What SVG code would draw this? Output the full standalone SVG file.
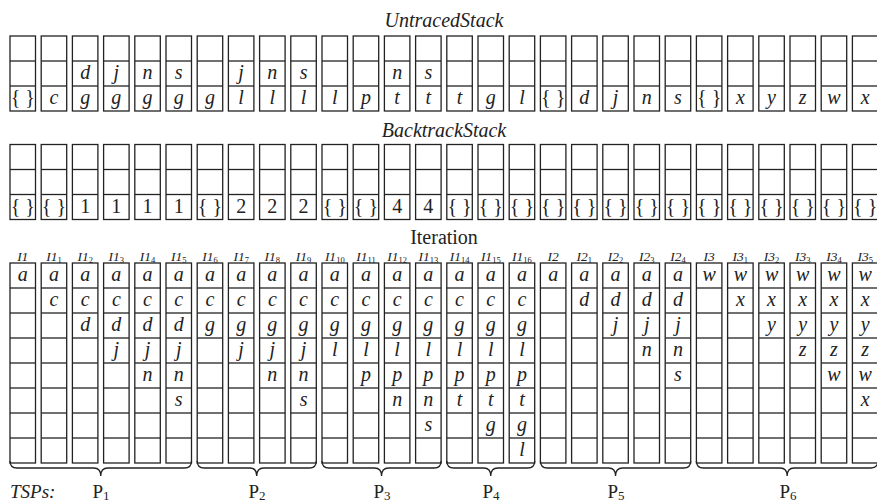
<svg xmlns="http://www.w3.org/2000/svg" width="877" height="503" viewBox="0 0 877 503" font-family="'Liberation Serif', 'DejaVu Serif', serif">
<style>
.c{fill:#fff;stroke:#222;stroke-width:1.3}
.l{stroke:#222;stroke-width:1.3}
text{font-family:'Liberation Serif','DejaVu Serif',serif;fill:#222}
.v{font-family:'Liberation Serif',serif;font-size:20px;font-style:italic;text-anchor:middle}
.n{font-family:'Liberation Serif',serif;font-size:20px;text-anchor:middle}
.t{font-family:'Liberation Serif',serif;font-size:20px;font-style:italic;text-anchor:middle}
.h{font-family:'Liberation Serif',serif;font-size:20px;text-anchor:middle}
.lab{font-family:'Liberation Serif',serif;font-size:13.5px;font-style:italic;text-anchor:middle}
.sub{font-size:8.5px;font-style:normal}
.p{font-family:'Liberation Serif',serif;font-size:19px;text-anchor:middle}
.tsp{font-family:'Liberation Serif',serif;font-size:19px;font-style:italic}
.psub{font-size:13px}
.br{fill:none;stroke:#222;stroke-width:1.3}
</style>
<defs>
<g id="s3"><rect class="c" x="0" y="0" width="25.5" height="75"/><line class="l" x1="0" y1="25" x2="25.5" y2="25"/><line class="l" x1="0" y1="50" x2="25.5" y2="50"/></g>
<g id="s8"><rect class="c" x="0" y="0" width="25.5" height="200"/><line class="l" x1="0" y1="25" x2="25.5" y2="25"/><line class="l" x1="0" y1="50" x2="25.5" y2="50"/><line class="l" x1="0" y1="75" x2="25.5" y2="75"/><line class="l" x1="0" y1="100" x2="25.5" y2="100"/><line class="l" x1="0" y1="125" x2="25.5" y2="125"/><line class="l" x1="0" y1="150" x2="25.5" y2="150"/><line class="l" x1="0" y1="175" x2="25.5" y2="175"/></g>
</defs>

<text class="t" x="444" y="27">UntracedStack</text>
<text class="t" x="444" y="137">BacktrackStack</text>
<text class="h" x="444" y="243.5">Iteration</text>

<g id="untraced">
<g id="u0" transform="translate(10,36)"><use href="#s3"/><text class="n" x="12.75" y="68">{ }</text></g>
<g id="u1" transform="translate(41.2,36)"><use href="#s3"/><text class="v" x="12.75" y="68">c</text></g>
<g id="u2" transform="translate(72.4,36)"><use href="#s3"/><text class="v" x="12.75" y="43">d</text><text class="v" x="12.75" y="68">g</text></g>
<g id="u3" transform="translate(103.6,36)"><use href="#s3"/><text class="v" x="12.75" y="43">j</text><text class="v" x="12.75" y="68">g</text></g>
<g id="u4" transform="translate(134.8,36)"><use href="#s3"/><text class="v" x="12.75" y="43">n</text><text class="v" x="12.75" y="68">g</text></g>
<g id="u5" transform="translate(166,36)"><use href="#s3"/><text class="v" x="12.75" y="43">s</text><text class="v" x="12.75" y="68">g</text></g>
<g id="u6" transform="translate(197.2,36)"><use href="#s3"/><text class="v" x="12.75" y="68">g</text></g>
<g id="u7" transform="translate(228.4,36)"><use href="#s3"/><text class="v" x="12.75" y="43">j</text><text class="v" x="12.75" y="68">l</text></g>
<g id="u8" transform="translate(259.6,36)"><use href="#s3"/><text class="v" x="12.75" y="43">n</text><text class="v" x="12.75" y="68">l</text></g>
<g id="u9" transform="translate(290.8,36)"><use href="#s3"/><text class="v" x="12.75" y="43">s</text><text class="v" x="12.75" y="68">l</text></g>
<g id="u10" transform="translate(322,36)"><use href="#s3"/><text class="v" x="12.75" y="68">l</text></g>
<g id="u11" transform="translate(353.2,36)"><use href="#s3"/><text class="v" x="12.75" y="68">p</text></g>
<g id="u12" transform="translate(384.4,36)"><use href="#s3"/><text class="v" x="12.75" y="43">n</text><text class="v" x="12.75" y="68">t</text></g>
<g id="u13" transform="translate(415.6,36)"><use href="#s3"/><text class="v" x="12.75" y="43">s</text><text class="v" x="12.75" y="68">t</text></g>
<g id="u14" transform="translate(446.8,36)"><use href="#s3"/><text class="v" x="12.75" y="68">t</text></g>
<g id="u15" transform="translate(478,36)"><use href="#s3"/><text class="v" x="12.75" y="68">g</text></g>
<g id="u16" transform="translate(509.2,36)"><use href="#s3"/><text class="v" x="12.75" y="68">l</text></g>
<g id="u17" transform="translate(540.4,36)"><use href="#s3"/><text class="n" x="12.75" y="68">{ }</text></g>
<g id="u18" transform="translate(571.6,36)"><use href="#s3"/><text class="v" x="12.75" y="68">d</text></g>
<g id="u19" transform="translate(602.8,36)"><use href="#s3"/><text class="v" x="12.75" y="68">j</text></g>
<g id="u20" transform="translate(634,36)"><use href="#s3"/><text class="v" x="12.75" y="68">n</text></g>
<g id="u21" transform="translate(665.2,36)"><use href="#s3"/><text class="v" x="12.75" y="68">s</text></g>
<g id="u22" transform="translate(696.4,36)"><use href="#s3"/><text class="n" x="12.75" y="68">{ }</text></g>
<g id="u23" transform="translate(727.6,36)"><use href="#s3"/><text class="v" x="12.75" y="68">x</text></g>
<g id="u24" transform="translate(758.8,36)"><use href="#s3"/><text class="v" x="12.75" y="68">y</text></g>
<g id="u25" transform="translate(790,36)"><use href="#s3"/><text class="v" x="12.75" y="68">z</text></g>
<g id="u26" transform="translate(821.2,36)"><use href="#s3"/><text class="v" x="12.75" y="68">w</text></g>
<g id="u27" transform="translate(852.4,36)"><use href="#s3"/><text class="v" x="12.75" y="68">x</text></g>
</g>

<g id="backtrack">
<g id="b0" transform="translate(10,144.5)"><use href="#s3"/><text class="n" x="12.75" y="68">{ }</text></g>
<g id="b1" transform="translate(41.2,144.5)"><use href="#s3"/><text class="n" x="12.75" y="68">{ }</text></g>
<g id="b2" transform="translate(72.4,144.5)"><use href="#s3"/><text class="n" x="12.75" y="68">1</text></g>
<g id="b3" transform="translate(103.6,144.5)"><use href="#s3"/><text class="n" x="12.75" y="68">1</text></g>
<g id="b4" transform="translate(134.8,144.5)"><use href="#s3"/><text class="n" x="12.75" y="68">1</text></g>
<g id="b5" transform="translate(166,144.5)"><use href="#s3"/><text class="n" x="12.75" y="68">1</text></g>
<g id="b6" transform="translate(197.2,144.5)"><use href="#s3"/><text class="n" x="12.75" y="68">{ }</text></g>
<g id="b7" transform="translate(228.4,144.5)"><use href="#s3"/><text class="n" x="12.75" y="68">2</text></g>
<g id="b8" transform="translate(259.6,144.5)"><use href="#s3"/><text class="n" x="12.75" y="68">2</text></g>
<g id="b9" transform="translate(290.8,144.5)"><use href="#s3"/><text class="n" x="12.75" y="68">2</text></g>
<g id="b10" transform="translate(322,144.5)"><use href="#s3"/><text class="n" x="12.75" y="68">{ }</text></g>
<g id="b11" transform="translate(353.2,144.5)"><use href="#s3"/><text class="n" x="12.75" y="68">{ }</text></g>
<g id="b12" transform="translate(384.4,144.5)"><use href="#s3"/><text class="n" x="12.75" y="68">4</text></g>
<g id="b13" transform="translate(415.6,144.5)"><use href="#s3"/><text class="n" x="12.75" y="68">4</text></g>
<g id="b14" transform="translate(446.8,144.5)"><use href="#s3"/><text class="n" x="12.75" y="68">{ }</text></g>
<g id="b15" transform="translate(478,144.5)"><use href="#s3"/><text class="n" x="12.75" y="68">{ }</text></g>
<g id="b16" transform="translate(509.2,144.5)"><use href="#s3"/><text class="n" x="12.75" y="68">{ }</text></g>
<g id="b17" transform="translate(540.4,144.5)"><use href="#s3"/><text class="n" x="12.75" y="68">{ }</text></g>
<g id="b18" transform="translate(571.6,144.5)"><use href="#s3"/><text class="n" x="12.75" y="68">{ }</text></g>
<g id="b19" transform="translate(602.8,144.5)"><use href="#s3"/><text class="n" x="12.75" y="68">{ }</text></g>
<g id="b20" transform="translate(634,144.5)"><use href="#s3"/><text class="n" x="12.75" y="68">{ }</text></g>
<g id="b21" transform="translate(665.2,144.5)"><use href="#s3"/><text class="n" x="12.75" y="68">{ }</text></g>
<g id="b22" transform="translate(696.4,144.5)"><use href="#s3"/><text class="n" x="12.75" y="68">{ }</text></g>
<g id="b23" transform="translate(727.6,144.5)"><use href="#s3"/><text class="n" x="12.75" y="68">{ }</text></g>
<g id="b24" transform="translate(758.8,144.5)"><use href="#s3"/><text class="n" x="12.75" y="68">{ }</text></g>
<g id="b25" transform="translate(790,144.5)"><use href="#s3"/><text class="n" x="12.75" y="68">{ }</text></g>
<g id="b26" transform="translate(821.2,144.5)"><use href="#s3"/><text class="n" x="12.75" y="68">{ }</text></g>
<g id="b27" transform="translate(852.4,144.5)"><use href="#s3"/><text class="n" x="12.75" y="68">{ }</text></g>
</g>

<g id="iterations">
<g id="it0" transform="translate(10,263)"><text class="lab" x="12.75" y="-2.5">I1</text><use href="#s8"/><text class="v" x="12.75" y="18">a</text></g>
<g id="it1" transform="translate(41.2,263)"><text class="lab" x="12.75" y="-2.5">I1<tspan class="sub" dy="2">1</tspan></text><use href="#s8"/><text class="v" x="12.75" y="18">a</text><text class="v" x="12.75" y="43">c</text></g>
<g id="it2" transform="translate(72.4,263)"><text class="lab" x="12.75" y="-2.5">I1<tspan class="sub" dy="2">2</tspan></text><use href="#s8"/><text class="v" x="12.75" y="18">a</text><text class="v" x="12.75" y="43">c</text><text class="v" x="12.75" y="68">d</text></g>
<g id="it3" transform="translate(103.6,263)"><text class="lab" x="12.75" y="-2.5">I1<tspan class="sub" dy="2">3</tspan></text><use href="#s8"/><text class="v" x="12.75" y="18">a</text><text class="v" x="12.75" y="43">c</text><text class="v" x="12.75" y="68">d</text><text class="v" x="12.75" y="93">j</text></g>
<g id="it4" transform="translate(134.8,263)"><text class="lab" x="12.75" y="-2.5">I1<tspan class="sub" dy="2">4</tspan></text><use href="#s8"/><text class="v" x="12.75" y="18">a</text><text class="v" x="12.75" y="43">c</text><text class="v" x="12.75" y="68">d</text><text class="v" x="12.75" y="93">j</text><text class="v" x="12.75" y="118">n</text></g>
<g id="it5" transform="translate(166,263)"><text class="lab" x="12.75" y="-2.5">I1<tspan class="sub" dy="2">5</tspan></text><use href="#s8"/><text class="v" x="12.75" y="18">a</text><text class="v" x="12.75" y="43">c</text><text class="v" x="12.75" y="68">d</text><text class="v" x="12.75" y="93">j</text><text class="v" x="12.75" y="118">n</text><text class="v" x="12.75" y="143">s</text></g>
<g id="it6" transform="translate(197.2,263)"><text class="lab" x="12.75" y="-2.5">I1<tspan class="sub" dy="2">6</tspan></text><use href="#s8"/><text class="v" x="12.75" y="18">a</text><text class="v" x="12.75" y="43">c</text><text class="v" x="12.75" y="68">g</text></g>
<g id="it7" transform="translate(228.4,263)"><text class="lab" x="12.75" y="-2.5">I1<tspan class="sub" dy="2">7</tspan></text><use href="#s8"/><text class="v" x="12.75" y="18">a</text><text class="v" x="12.75" y="43">c</text><text class="v" x="12.75" y="68">g</text><text class="v" x="12.75" y="93">j</text></g>
<g id="it8" transform="translate(259.6,263)"><text class="lab" x="12.75" y="-2.5">I1<tspan class="sub" dy="2">8</tspan></text><use href="#s8"/><text class="v" x="12.75" y="18">a</text><text class="v" x="12.75" y="43">c</text><text class="v" x="12.75" y="68">g</text><text class="v" x="12.75" y="93">j</text><text class="v" x="12.75" y="118">n</text></g>
<g id="it9" transform="translate(290.8,263)"><text class="lab" x="12.75" y="-2.5">I1<tspan class="sub" dy="2">9</tspan></text><use href="#s8"/><text class="v" x="12.75" y="18">a</text><text class="v" x="12.75" y="43">c</text><text class="v" x="12.75" y="68">g</text><text class="v" x="12.75" y="93">j</text><text class="v" x="12.75" y="118">n</text><text class="v" x="12.75" y="143">s</text></g>
<g id="it10" transform="translate(322,263)"><text class="lab" x="12.75" y="-2.5">I1<tspan class="sub" dy="2">10</tspan></text><use href="#s8"/><text class="v" x="12.75" y="18">a</text><text class="v" x="12.75" y="43">c</text><text class="v" x="12.75" y="68">g</text><text class="v" x="12.75" y="93">l</text></g>
<g id="it11" transform="translate(353.2,263)"><text class="lab" x="12.75" y="-2.5">I1<tspan class="sub" dy="2">11</tspan></text><use href="#s8"/><text class="v" x="12.75" y="18">a</text><text class="v" x="12.75" y="43">c</text><text class="v" x="12.75" y="68">g</text><text class="v" x="12.75" y="93">l</text><text class="v" x="12.75" y="118">p</text></g>
<g id="it12" transform="translate(384.4,263)"><text class="lab" x="12.75" y="-2.5">I1<tspan class="sub" dy="2">12</tspan></text><use href="#s8"/><text class="v" x="12.75" y="18">a</text><text class="v" x="12.75" y="43">c</text><text class="v" x="12.75" y="68">g</text><text class="v" x="12.75" y="93">l</text><text class="v" x="12.75" y="118">p</text><text class="v" x="12.75" y="143">n</text></g>
<g id="it13" transform="translate(415.6,263)"><text class="lab" x="12.75" y="-2.5">I1<tspan class="sub" dy="2">13</tspan></text><use href="#s8"/><text class="v" x="12.75" y="18">a</text><text class="v" x="12.75" y="43">c</text><text class="v" x="12.75" y="68">g</text><text class="v" x="12.75" y="93">l</text><text class="v" x="12.75" y="118">p</text><text class="v" x="12.75" y="143">n</text><text class="v" x="12.75" y="168">s</text></g>
<g id="it14" transform="translate(446.8,263)"><text class="lab" x="12.75" y="-2.5">I1<tspan class="sub" dy="2">14</tspan></text><use href="#s8"/><text class="v" x="12.75" y="18">a</text><text class="v" x="12.75" y="43">c</text><text class="v" x="12.75" y="68">g</text><text class="v" x="12.75" y="93">l</text><text class="v" x="12.75" y="118">p</text><text class="v" x="12.75" y="143">t</text></g>
<g id="it15" transform="translate(478,263)"><text class="lab" x="12.75" y="-2.5">I1<tspan class="sub" dy="2">15</tspan></text><use href="#s8"/><text class="v" x="12.75" y="18">a</text><text class="v" x="12.75" y="43">c</text><text class="v" x="12.75" y="68">g</text><text class="v" x="12.75" y="93">l</text><text class="v" x="12.75" y="118">p</text><text class="v" x="12.75" y="143">t</text><text class="v" x="12.75" y="168">g</text></g>
<g id="it16" transform="translate(509.2,263)"><text class="lab" x="12.75" y="-2.5">I1<tspan class="sub" dy="2">16</tspan></text><use href="#s8"/><text class="v" x="12.75" y="18">a</text><text class="v" x="12.75" y="43">c</text><text class="v" x="12.75" y="68">g</text><text class="v" x="12.75" y="93">l</text><text class="v" x="12.75" y="118">p</text><text class="v" x="12.75" y="143">t</text><text class="v" x="12.75" y="168">g</text><text class="v" x="12.75" y="193">l</text></g>
<g id="it17" transform="translate(540.4,263)"><text class="lab" x="12.75" y="-2.5">I2</text><use href="#s8"/><text class="v" x="12.75" y="18">a</text></g>
<g id="it18" transform="translate(571.6,263)"><text class="lab" x="12.75" y="-2.5">I2<tspan class="sub" dy="2">1</tspan></text><use href="#s8"/><text class="v" x="12.75" y="18">a</text><text class="v" x="12.75" y="43">d</text></g>
<g id="it19" transform="translate(602.8,263)"><text class="lab" x="12.75" y="-2.5">I2<tspan class="sub" dy="2">2</tspan></text><use href="#s8"/><text class="v" x="12.75" y="18">a</text><text class="v" x="12.75" y="43">d</text><text class="v" x="12.75" y="68">j</text></g>
<g id="it20" transform="translate(634,263)"><text class="lab" x="12.75" y="-2.5">I2<tspan class="sub" dy="2">3</tspan></text><use href="#s8"/><text class="v" x="12.75" y="18">a</text><text class="v" x="12.75" y="43">d</text><text class="v" x="12.75" y="68">j</text><text class="v" x="12.75" y="93">n</text></g>
<g id="it21" transform="translate(665.2,263)"><text class="lab" x="12.75" y="-2.5">I2<tspan class="sub" dy="2">4</tspan></text><use href="#s8"/><text class="v" x="12.75" y="18">a</text><text class="v" x="12.75" y="43">d</text><text class="v" x="12.75" y="68">j</text><text class="v" x="12.75" y="93">n</text><text class="v" x="12.75" y="118">s</text></g>
<g id="it22" transform="translate(696.4,263)"><text class="lab" x="12.75" y="-2.5">I3</text><use href="#s8"/><text class="v" x="12.75" y="18">w</text></g>
<g id="it23" transform="translate(727.6,263)"><text class="lab" x="12.75" y="-2.5">I3<tspan class="sub" dy="2">1</tspan></text><use href="#s8"/><text class="v" x="12.75" y="18">w</text><text class="v" x="12.75" y="43">x</text></g>
<g id="it24" transform="translate(758.8,263)"><text class="lab" x="12.75" y="-2.5">I3<tspan class="sub" dy="2">2</tspan></text><use href="#s8"/><text class="v" x="12.75" y="18">w</text><text class="v" x="12.75" y="43">x</text><text class="v" x="12.75" y="68">y</text></g>
<g id="it25" transform="translate(790,263)"><text class="lab" x="12.75" y="-2.5">I3<tspan class="sub" dy="2">3</tspan></text><use href="#s8"/><text class="v" x="12.75" y="18">w</text><text class="v" x="12.75" y="43">x</text><text class="v" x="12.75" y="68">y</text><text class="v" x="12.75" y="93">z</text></g>
<g id="it26" transform="translate(821.2,263)"><text class="lab" x="12.75" y="-2.5">I3<tspan class="sub" dy="2">4</tspan></text><use href="#s8"/><text class="v" x="12.75" y="18">w</text><text class="v" x="12.75" y="43">x</text><text class="v" x="12.75" y="68">y</text><text class="v" x="12.75" y="93">z</text><text class="v" x="12.75" y="118">w</text></g>
<g id="it27" transform="translate(852.4,263)"><text class="lab" x="12.75" y="-2.5">I3<tspan class="sub" dy="2">5</tspan></text><use href="#s8"/><text class="v" x="12.75" y="18">w</text><text class="v" x="12.75" y="43">x</text><text class="v" x="12.75" y="68">y</text><text class="v" x="12.75" y="93">z</text><text class="v" x="12.75" y="118">w</text><text class="v" x="12.75" y="143">x</text></g>
</g>

<g id="connectors">
<path class="br" d="M10,461 Q10,468 17,468 H93.75 Q100.75,468 100.75,476 Q100.75,468 107.75,468 H184.5 Q191.5,468 191.5,461"/>
<path class="br" d="M197.2,461 Q197.2,468 204.2,468 H249.75 Q256.75,468 256.75,476 Q256.75,468 263.75,468 H309.3 Q316.3,468 316.3,461"/>
<path class="br" d="M322,461 Q322,468 329,468 H374.55 Q381.55,468 381.55,476 Q381.55,468 388.55,468 H434.1 Q441.1,468 441.1,461"/>
<path class="br" d="M446.8,461 Q446.8,468 453.8,468 H483.75 Q490.75,468 490.75,476 Q490.75,468 497.75,468 H527.7 Q534.7,468 534.7,461"/>
<path class="br" d="M540.4,461 Q540.4,468 547.4,468 H608.55 Q615.55,468 615.55,476 Q615.55,468 622.55,468 H683.7 Q690.7,468 690.7,461"/>
<path class="br" d="M696.4,461 Q696.4,468 703.4,468 H780.15 Q787.15,468 787.15,476 Q787.15,468 794.15,468 H870.9 Q877.9,468 877.9,461"/>
</g>

<g id="labels">
<text class="tsp" x="10" y="498">TSPs:</text>
<text class="p" x="101" y="498">P<tspan class="psub" dy="2">1</tspan></text>
<text class="p" x="257" y="498">P<tspan class="psub" dy="2">2</tspan></text>
<text class="p" x="382" y="498">P<tspan class="psub" dy="2">3</tspan></text>
<text class="p" x="491" y="498">P<tspan class="psub" dy="2">4</tspan></text>
<text class="p" x="616" y="498">P<tspan class="psub" dy="2">5</tspan></text>
<text class="p" x="788" y="498">P<tspan class="psub" dy="2">6</tspan></text>
</g>
</svg>
